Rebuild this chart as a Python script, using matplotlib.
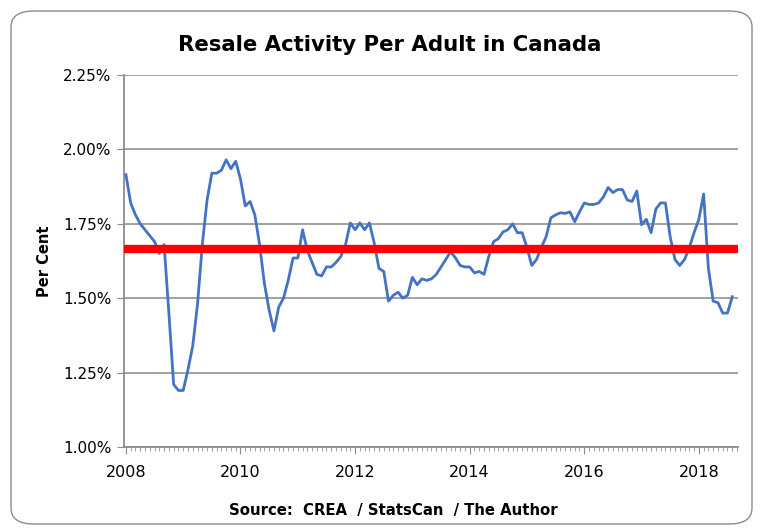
import matplotlib
matplotlib.use("Agg")
import matplotlib.pyplot as plt
from matplotlib.patches import FancyBboxPatch
from matplotlib.ticker import FixedLocator, FuncFormatter

# ---- data (monthly, Jan 2008 .. Aug 2018), per cent ----
resale_pct = [
    1.915, 1.82, 1.78, 1.75, 1.73, 1.71, 1.69, 1.65, 1.68, 1.45, 1.21, 1.19,
    1.19, 1.26, 1.34, 1.48, 1.68, 1.83, 1.92, 1.92, 1.93, 1.965, 1.935, 1.96,
    1.90, 1.81, 1.825, 1.78, 1.68, 1.55, 1.46, 1.39, 1.47, 1.50, 1.56, 1.635,
    1.635, 1.73, 1.66, 1.62, 1.58, 1.575, 1.605, 1.605, 1.62, 1.64, 1.68, 1.753,
    1.73, 1.753, 1.73, 1.753, 1.686, 1.60, 1.59, 1.49, 1.51, 1.52, 1.50, 1.51,
    1.57, 1.545, 1.565, 1.56, 1.565, 1.58, 1.605, 1.63, 1.656, 1.636, 1.61, 1.605,
    1.605, 1.585, 1.59, 1.58, 1.64, 1.69, 1.70, 1.723, 1.73, 1.75, 1.72, 1.72,
    1.67, 1.61, 1.63, 1.67, 1.706, 1.77, 1.78, 1.787, 1.785, 1.79, 1.757, 1.79,
    1.82, 1.815, 1.815, 1.82, 1.84, 1.872, 1.855, 1.865, 1.865, 1.83, 1.825, 1.86,
    1.747, 1.765, 1.72, 1.80, 1.82, 1.82, 1.706, 1.63, 1.61, 1.63, 1.67, 1.72,
    1.765, 1.85, 1.60, 1.49, 1.485, 1.45, 1.45, 1.505,
]
average_pct = 1.667
year_labels = ["2008", "2010", "2012", "2014", "2016", "2018"]
y_ticks = [1.00, 1.25, 1.50, 1.75, 2.00, 2.25]

months = list(range(len(resale_pct)))
year_tick_pos = [24 * i for i in range(len(year_labels))]

font = ["Liberation Sans Narrow", "DejaVu Sans Condensed", "DejaVu Sans"]
plt.rcParams["font.family"] = font

fig = plt.figure(figsize=(7.62, 5.32), dpi=100)
fig.patch.set_facecolor("white")

# rounded chart border
border = FancyBboxPatch((11 / 762, 8 / 532), 741 / 762, 513 / 532,
                        boxstyle="round,pad=0,rounding_size=0.03",
                        transform=fig.transFigure, facecolor="none",
                        edgecolor="#8c8c8c", linewidth=1.0, zorder=-10)
fig.add_artist(border)

ax = fig.add_axes([124 / 762, 1 - 447 / 532, (738 - 124) / 762, (447 - 75) / 532])
ax.set_facecolor("none")
ax.set_zorder(2)

ax.plot(months, resale_pct, color="#4472C4", linewidth=2.0, zorder=3)
ax.axhline(average_pct, color="#FF0000", linewidth=6, zorder=4)

ax.set_ylim(1.0, 2.25)
ax.set_xlim(-0.4, 128.2)
ax.yaxis.set_major_locator(FixedLocator(y_ticks))
ax.yaxis.set_major_formatter(FuncFormatter(lambda v, p: f"{v:.2f}%"))
ax.xaxis.set_major_locator(FixedLocator(year_tick_pos))
ax.set_xticklabels(year_labels)
ax.xaxis.set_minor_locator(FixedLocator(list(range(0, 129))))

ax.grid(axis="y", color="#9a9a9a", linewidth=1.3, zorder=1)
ax.set_axisbelow(True)
for s in ["top", "right"]:
    ax.spines[s].set_visible(False)
for s in ["left", "bottom"]:
    ax.spines[s].set_color("#8c8c8c")
    ax.spines[s].set_linewidth(1.3)

ax.tick_params(axis="y", direction="out", length=5, color="#8c8c8c",
               labelsize=11, pad=4, labelcolor="black")
ax.tick_params(axis="x", which="major", direction="out", length=5, color="#8c8c8c",
               labelsize=11.5, pad=8, labelcolor="black")
ax.tick_params(axis="x", which="minor", direction="out", length=3, color="#8c8c8c")

ax.set_ylabel("Per Cent", fontsize=10.5, fontweight="bold", labelpad=8)

fig.text(390 / 762, 1 - 45 / 532, "Resale Activity Per Adult in Canada",
         ha="center", va="center", fontsize=15.3, fontweight="bold")
fig.text(393 / 762, 1 - 510 / 532, "Source:  CREA  / StatsCan  / The Author",
         ha="center", va="center", fontsize=10.7, fontweight="bold")

fig.savefig("out.png", dpi=100)
